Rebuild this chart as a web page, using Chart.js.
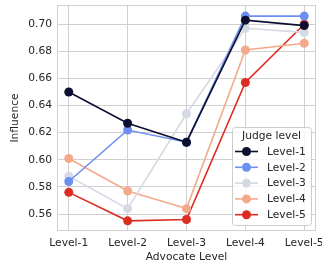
<!DOCTYPE html>
<html>
<head>
<meta charset="utf-8">
<script src="https://cdn.jsdelivr.net/npm/chart.js@4/dist/chart.umd.min.js"></script>
<style>
  html, body { margin: 0; padding: 0; background: #ffffff; }
  #wrap { width: 322px; height: 267px; }
</style>
</head>
<body>
<div id="wrap"><canvas id="c" width="322" height="267"></canvas></div>
<script>
// Advocate levels on the x axis
const advocateLevels = ['Level-1', 'Level-2', 'Level-3', 'Level-4', 'Level-5'];
const judgeLevels = ['Level-1', 'Level-2', 'Level-3', 'Level-4', 'Level-5'];

// Influence values, one array per judge level
const judge1 = [0.650, 0.627, 0.613, 0.703, 0.699];
const judge2 = [0.584, 0.622, 0.613, 0.706, 0.706];
const judge3 = [0.588, 0.564, 0.634, 0.697, 0.694];
const judge4 = [0.601, 0.577, 0.564, 0.681, 0.686];
const judge5 = [0.576, 0.555, 0.556, 0.657, 0.700];

const yTicks = [0.56, 0.58, 0.60, 0.62, 0.64, 0.66, 0.68, 0.70];

const seriesValues = [judge1, judge2, judge3, judge4, judge5];
const seriesColors = ['#0c0f30', '#6c8ff0', '#d4d9e4', '#f5a98b', '#dc2d22'];

const textColor = '#262626';
const gridColor = '#d0d0d0';
const fontFamily = '"DejaVu Sans", sans-serif';
const fontSize = 10.7;

const datasets = seriesValues.map(function (vals, i) {
  return {
    label: judgeLevels[i],
    data: vals.map(function (v, k) { return { x: k, y: v }; }),
    borderColor: seriesColors[i],
    backgroundColor: seriesColors[i],
    borderWidth: 1.6,
    pointRadius: 4.5,
    pointBorderWidth: 0,
    pointHoverRadius: 4.5,
    tension: 0
  };
});

// frame around the plot area
const framePlugin = {
  id: 'frame',
  beforeDatasetsDraw: function (chart) {
    const a = chart.chartArea;
    const ctx = chart.ctx;
    ctx.save();
    ctx.strokeStyle = gridColor;
    ctx.lineWidth = 1;
    ctx.strokeRect(Math.round(a.left) + 0.5, Math.round(a.top) + 0.5,
      Math.round(a.right - a.left) - 1, Math.round(a.bottom - a.top) - 1);
    ctx.restore();
  }
};

// matplotlib-style legend inside the lower right corner
const legendPlugin = {
  id: 'innerLegend',
  afterDatasetsDraw: function (chart) {
    const ctx = chart.ctx;
    const x0 = 232, y0 = 127, w = 79, h = 98;
    ctx.save();
    ctx.fillStyle = 'rgba(255,255,255,0.8)';
    ctx.strokeStyle = '#cccccc';
    ctx.lineWidth = 1;
    ctx.beginPath();
    ctx.roundRect(x0 + 0.5, y0 + 0.5, w, h, 3);
    ctx.fill();
    ctx.stroke();

    ctx.font = fontSize + 'px ' + fontFamily;
    ctx.fillStyle = textColor;
    ctx.textAlign = 'center';
    ctx.textBaseline = 'middle';
    ctx.fillText('Judge level', x0 + w / 2, y0 + 9);

    chart.data.datasets.forEach(function (ds, i) {
      const y = y0 + 24.5 + i * 15.8;
      ctx.strokeStyle = ds.borderColor;
      ctx.lineWidth = 1.6;
      ctx.beginPath();
      ctx.moveTo(x0 + 3, y);
      ctx.lineTo(x0 + 26, y);
      ctx.stroke();
      ctx.fillStyle = ds.backgroundColor;
      ctx.beginPath();
      ctx.arc(x0 + 14.5, y, 4.5, 0, Math.PI * 2);
      ctx.fill();
      ctx.fillStyle = textColor;
      ctx.textAlign = 'left';
      ctx.fillText(ds.label, x0 + 35, y + 0.5);
    });
    ctx.restore();
  }
};

new Chart(document.getElementById('c').getContext('2d'), {
  type: 'line',
  data: { datasets: datasets },
  options: {
    responsive: false,
    animation: false,
    layout: { padding: { top: 5, right: 6, left: 0, bottom: 0 } },
    plugins: {
      legend: { display: false },
      tooltip: { enabled: false }
    },
    scales: {
      x: {
        type: 'linear',
        min: -0.2,
        max: 4.2,
        afterFit: function (scale) {
          scale.height = 36;
          scale.paddingLeft = 0;
          scale.paddingRight = 0;
        },
        grid: { color: gridColor, drawTicks: false },
        border: { display: false },
        ticks: {
          stepSize: 1,
          includeBounds: false,
          padding: 6,
          color: textColor,
          font: { family: fontFamily, size: fontSize },
          callback: function (v) { return advocateLevels[v]; }
        },
        title: {
          display: true,
          text: 'Advocate Level',
          color: textColor,
          font: { family: fontFamily, size: fontSize },
          padding: { top: 0, bottom: 3 }
        }
      },
      y: {
        min: 0.5475,
        max: 0.7142,
        afterFit: function (scale) {
          scale.width = 57;
          scale.paddingTop = 0;
          scale.paddingBottom = 0;
        },
        afterBuildTicks: function (scale) {
          scale.ticks = yTicks.map(function (v) { return { value: v }; });
        },
        grid: { color: gridColor, drawTicks: false },
        border: { display: false },
        ticks: {
          padding: 5,
          color: textColor,
          font: { family: fontFamily, size: fontSize },
          callback: function (v) { return v.toFixed(2); }
        },
        title: {
          display: true,
          text: 'Influence',
          color: textColor,
          font: { family: fontFamily, size: fontSize },
          padding: { top: 9, bottom: 0 }
        }
      }
    }
  },
  plugins: [framePlugin, legendPlugin]
});
</script>
</body>
</html>
